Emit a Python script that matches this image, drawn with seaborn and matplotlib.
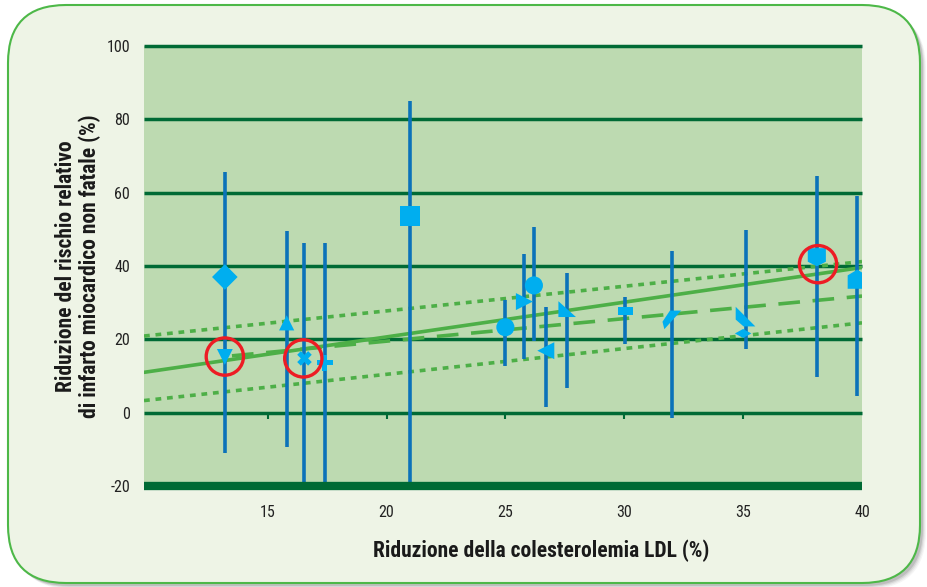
import numpy as np
import pandas as pd
import matplotlib.pyplot as plt
import seaborn as sns
from matplotlib.patches import FancyBboxPatch
from matplotlib.transforms import IdentityTransform

# Studies: LDL reduction (%) vs reduction of non-fatal MI risk (%)
ldl = [13.2, 13.2, 15.8, 16.55, 17.4, 21.0, 25.0, 25.8, 26.2, 26.7, 27.6, 30.05, 32.0, 35.1, 35.0, 38.1, 39.8]
risk = [37.0, 15.2, 24.5, 14.8, 13.6, 53.6, 23.3, 30.3, 34.7, 16.9, 28.0, 27.8, 25.3, 26.2, 21.6, 42.4, 36.4]
ci_low = [-11.0, np.nan, -9.5, -25.0, -25.0, -25.0, 12.7, 14.7, 19.6, 1.6, 6.7, 18.7, -1.5, 17.4, np.nan, 9.8, 4.6]
ci_high = [65.5, np.nan, 49.5, 46.4, 46.4, 85.0, 30.7, 43.2, 50.6, 28.7, 38.0, 31.5, 44.0, 49.8, np.nan, 64.5, 59.0]

# highlighted studies (red rings)
hl_ldl = [13.2, 16.5, 38.15]
hl_risk = [15.3, 14.8, 40.5]

# regression line and bands (end points)
fit_x = [9.8, 40.0]
fit_y = [11.0, 39.6]
alt_x = [13.5, 40.0]
alt_y = [15.5, 31.8]
upper_y = [20.9, 41.2]
lower_y = [3.3, 24.5]

x_ticks = [15, 20, 25, 30, 35, 40]
y_ticks = [-20, 0, 20, 40, 60, 80, 100]

# marker shapes, one per study
markers = [
    'D', 'v', '^', 'X', 'P', 's', 'o', '>', 'o', '<',
    [(-1, 1), (1, -0.8), (-1, -0.8)],
    [(-1.5, -0.75), (1.5, -0.75), (1.5, 0.75), (-1.5, 0.75)],
    [(-0.2, 1), (1, 1), (-0.8, -1), (-1, -0.2)],
    [(-1, 1), (-1, -0.3), (-0.2, -1), (1, -1)],
    [(-1, 0), (0, 0.55), (1, 0), (0, -0.55)],
    [(-1, 1), (1, 1), (1, -0.5), (0, -1), (-1, -0.5)],
    [(0, 1), (1, 0.4), (1, -1), (-1, -1), (-1, 0.4)],
]
sizes = [170, 130, 120, 110, 130, 200, 170, 150, 170, 150, 160, 130, 180, 200, 140, 170, 190]

df = pd.DataFrame({'ldl': ldl, 'risk': risk, 'low': ci_low, 'high': ci_high})

sns.set_theme(style="white")
plt.rcParams['font.family'] = ['Roboto Condensed', 'Roboto', 'DejaVu Sans']
plt.rcParams['axes.unicode_minus'] = False

grid_green = '#006A35'
line_green = '#4DAF47'
bar_blue = '#0B72B9'
mark_blue = '#00AEEF'

fig = plt.figure(figsize=(9.28, 5.87), dpi=100)
fig.patch.set_facecolor('white')

# rounded panel with soft shadow
for i, a in enumerate([0.06, 0.08, 0.12, 0.18]):
    off = 6 - i
    sh = FancyBboxPatch((8 + off, 4 - off), 912, 578, boxstyle="round,pad=0,rounding_size=58",
                        transform=IdentityTransform(), facecolor='#555555', edgecolor='none',
                        alpha=a, zorder=-20)
    fig.add_artist(sh)
panel = FancyBboxPatch((8, 4), 912, 578, boxstyle="round,pad=0,rounding_size=58",
                       transform=IdentityTransform(), facecolor='#EEF4E6', edgecolor='#4DB848',
                       linewidth=1.5, zorder=-10)
fig.add_artist(panel)

ax = fig.add_axes([144 / 928, 1 - 486 / 587, 718 / 928, 440 / 587])
ax.set_facecolor('#BDDAB1')
for s in ax.spines.values():
    s.set_visible(False)

ax.set_xlim(9.8, 40.0)
ax.set_ylim(-20, 100)

for yv in y_ticks[1:]:
    ax.axhline(yv, color=grid_green, lw=2.5, zorder=1, clip_on=False, solid_capstyle='butt')
ax.axhline(-20, color=grid_green, lw=6, zorder=5, clip_on=False, solid_capstyle='butt')
# small ticks on the zero line
ax.vlines(x_ticks[:-1], -1.6, 0, color=grid_green, lw=1.5, zorder=1)

# regression line, alternative fit and confidence band
sns.lineplot(x=fit_x, y=upper_y, ax=ax, color=line_green, lw=2.6, linestyle=(0, (1.6, 1.6)), zorder=2)
sns.lineplot(x=fit_x, y=lower_y, ax=ax, color=line_green, lw=2.6, linestyle=(0, (1.6, 1.6)), zorder=2)
sns.lineplot(x=alt_x, y=alt_y, ax=ax, color=line_green, lw=2.6, linestyle=(0, (6, 3.5)), zorder=2)
sns.lineplot(x=fit_x, y=fit_y, ax=ax, color=line_green, lw=2.6, zorder=2)

# confidence intervals
ok = df.dropna()
ax.vlines(ok['ldl'], ok['low'], ok['high'], color=bar_blue, lw=2.6, zorder=3)

# study markers
for i, row in df.iterrows():
    sns.scatterplot(x=[row['ldl']], y=[row['risk']], ax=ax, marker=markers[i], s=sizes[i],
                    color=mark_blue, edgecolor='none', linewidth=0, zorder=4)

# highlighted studies
sns.scatterplot(x=hl_ldl, y=hl_risk, ax=ax, marker='o', s=720, facecolor='none',
                edgecolor='#ED1C24', linewidth=2.4, zorder=6)

ax.set_xticks(x_ticks)
ax.set_yticks(y_ticks)
ax.tick_params(axis='x', length=0, pad=14, labelsize=11.5, colors='#222222')
ax.tick_params(axis='y', length=0, pad=10, labelsize=11.5, colors='#222222')

ax.set_xlabel('Riduzione della colesterolemia LDL (%)', fontsize=15.5, fontweight='bold', color='#1a1a1a')
ax.xaxis.set_label_coords(0.553, -0.122)
ax.set_ylabel('Riduzione del rischio relativo\ndi infarto miocardico non fatale (%)', fontsize=15.5,
              fontweight='bold', color='#1a1a1a', linespacing=1.05)
ax.yaxis.set_label_coords(-0.06, 0.5)

plt.savefig('out.png', dpi=100)
